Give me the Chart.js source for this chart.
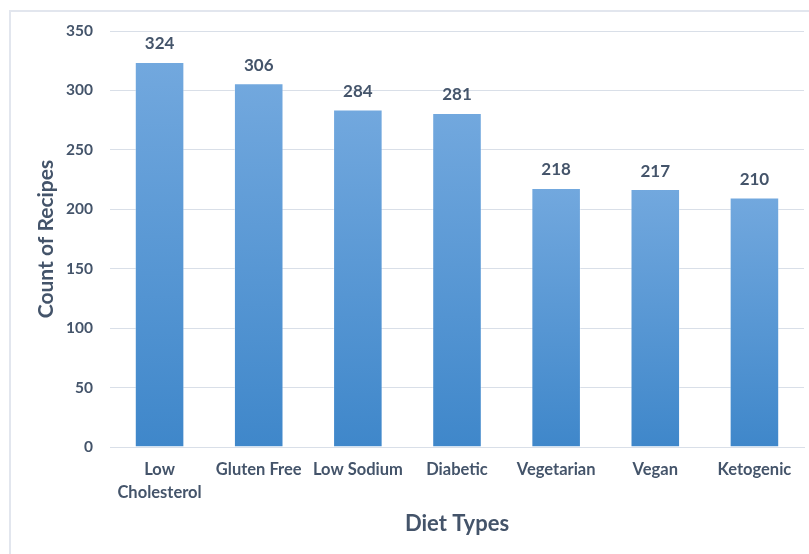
<!DOCTYPE html>
<html>
<head>
<meta charset="utf-8">
<script src="https://cdn.jsdelivr.net/npm/chart.js@4/dist/chart.umd.min.js"></script>
<style>
    html, body { margin: 0; padding: 0; background: #fff; }
    #wrap { position: relative; width: 809px; height: 554px; overflow: hidden; }
    #frame { position: absolute; left: 9px; top: 10px; width: 900px; height: 700px;
             border-left: 2px solid #e2e6ee; border-top: 2px solid #e2e6ee; }
    canvas { position: absolute; left: 0; top: 0; }
</style>
</head>
<body>
<div id="wrap">
    <div id="frame"></div>
    <canvas id="dietChart" width="809" height="554"></canvas>
</div>
<script>
// Recipe counts per diet type
const dietTypes = [['Low', 'Cholesterol'], 'Gluten Free', 'Low Sodium', 'Diabetic', 'Vegetarian', 'Vegan', 'Ketogenic'];
const recipeCounts = [324, 306, 284, 281, 218, 217, 210];
const yTicks = [0, 50, 100, 150, 200, 250, 300, 350];

const textColor = '#44546a';
const fontFamily = 'Lato, "Liberation Sans", sans-serif';

// vertical gradient per bar, lighter at the top
function barGradient(context) {
    const chart = context.chart;
    const { ctx, chartArea, scales } = chart;
    if (!chartArea || !scales.y) return '#5b9bd5';
    const top = scales.y.getPixelForValue(context.raw);
    const bottom = scales.y.getPixelForValue(0);
    const g = ctx.createLinearGradient(0, top, 0, bottom);
    g.addColorStop(0, '#72a8de');
    g.addColorStop(1, '#3f87ca');
    return g;
}

// value labels above each bar
const valueLabels = {
    id: 'valueLabels',
    afterDatasetsDraw(chart) {
        const ctx = chart.ctx;
        const meta = chart.getDatasetMeta(0);
        ctx.save();
        ctx.font = 'bold 17px ' + fontFamily;
        ctx.fillStyle = textColor;
        ctx.textAlign = 'center';
        ctx.textBaseline = 'middle';
        meta.data.forEach((bar, i) => {
            ctx.fillText(recipeCounts[i], bar.x, bar.y - 18);
        });
        ctx.restore();
    }
};

const ctx = document.getElementById('dietChart').getContext('2d');
new Chart(ctx, {
    type: 'bar',
    data: {
        labels: dietTypes,
        datasets: [{
            data: recipeCounts,
            backgroundColor: barGradient,
            borderColor: 'rgba(255, 255, 255, 0.35)',
            borderWidth: 1,
            barPercentage: 0.5,
            categoryPercentage: 1
        }]
    },
    options: {
        responsive: false,
        animation: false,
        layout: { padding: { top: 31, right: 5, left: 0, bottom: 0 } },
        plugins: {
            legend: { display: false },
            tooltip: { enabled: false }
        },
        scales: {
            x: {
                grid: { display: false, drawTicks: false },
                border: { display: true, color: '#d9dfe8', width: 1 },
                ticks: {
                    color: textColor,
                    font: { family: fontFamily, size: 16.5, weight: 'bold', lineHeight: 1.35 },
                    padding: 12,
                    maxRotation: 0,
                    autoSkip: false
                },
                title: {
                    display: true,
                    text: 'Diet Types',
                    color: textColor,
                    font: { family: fontFamily, size: 22, weight: 'bold' },
                    padding: { top: 0, bottom: 17 }
                },
                afterFit(scale) { scale.height = 107; }
            },
            y: {
                min: 0,
                max: 350,
                afterBuildTicks(scale) {
                    scale.ticks = yTicks.map(v => ({ value: v }));
                },
                grid: { color: '#d9dfe8', lineWidth: 1, drawTicks: false },
                border: { display: false },
                ticks: {
                    color: textColor,
                    font: { family: fontFamily, size: 15.5, weight: 'bold' },
                    padding: 17
                },
                title: {
                    display: true,
                    text: 'Count of Recipes',
                    color: textColor,
                    font: { family: fontFamily, size: 21, weight: 'bold' },
                    padding: { top: 34, bottom: 0 }
                },
                afterFit(scale) { scale.width = 110; }
            }
        }
    },
    plugins: [valueLabels]
});
</script>
</body>
</html>
